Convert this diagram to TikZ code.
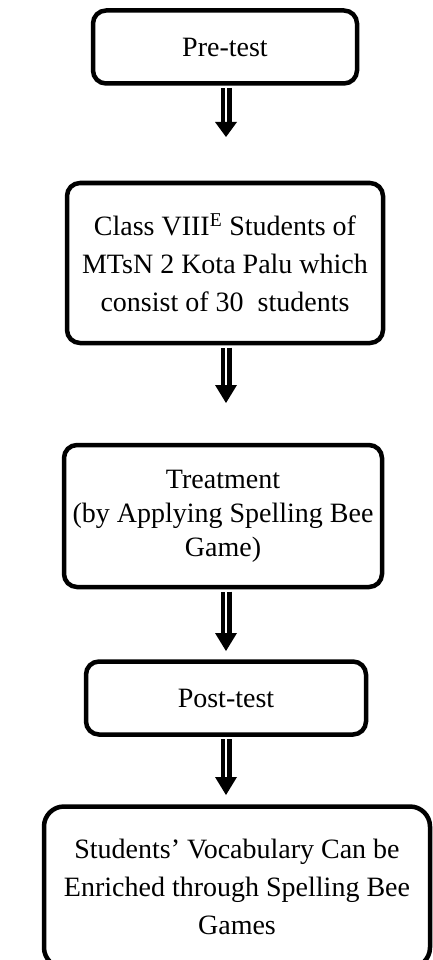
\documentclass[tikz,border=0pt]{standalone}
\usepackage{fontspec}
\setmainfont{Liberation Serif}
\usetikzlibrary{calc}
\begin{document}
\begin{tikzpicture}[x=1pt, y=-1pt]
\tikzset{every node/.style={font=\fontsize{28}{38}\selectfont}}
\tikzset{stage/.style={draw, line width=4.5pt, rounded corners=13pt, align=center, inner sep=0pt}}
\tikzset{shaft/.style={draw, line width=4.5pt, double=white, double distance=2pt}}
\useasboundingbox (0,0) rectangle (432,960);
\node[stage, minimum width=264pt, minimum height=73pt] (pre) at (225,47) {Pre-test};
\node[stage, minimum width=316pt, minimum height=160pt] (class) at (225,263)
  {Class VIII\textsuperscript{E} Students of\\MTsN 2 Kota Palu which\\consist of 30~ students};
\node[stage, minimum width=318pt, minimum height=142pt, font=\fontsize{28}{34}\selectfont] (treat) at (223,516)
  {Treatment\\(by Applying Spelling Bee\\Game)};
\node[stage, minimum width=280pt, minimum height=73pt] (post) at (226,698) {Post-test};
\node[stage, minimum width=386pt, minimum height=161pt, rounded corners=20pt] (result) at (237,887)
  {Students’ Vocabulary Can be\\Enriched through Spelling Bee\\Games};
\coordinate (b1) at (226,122); \coordinate (t1) at (226,137);
\coordinate (b2) at (226,385); \coordinate (t2) at (226,403);
\coordinate (b3) at (226,633); \coordinate (t3) at (226,651);
\coordinate (b4) at (226,777); \coordinate (t4) at (226,795);
\draw[shaft] ($(pre.south -| b1)+(0,2.25)$) -- (b1);
\fill (b1) ++(-11,0) -- ++(22,0) -- (t1) -- cycle;
\draw[shaft] ($(class.south -| b2)+(0,2.25)$) -- (b2);
\fill (b2) ++(-11,0) -- ++(22,0) -- (t2) -- cycle;
\draw[shaft] ($(treat.south -| b3)+(0,2.25)$) -- (b3);
\fill (b3) ++(-11,0) -- ++(22,0) -- (t3) -- cycle;
\draw[shaft] ($(post.south -| b4)+(0,2.25)$) -- (b4);
\fill (b4) ++(-11,0) -- ++(22,0) -- (t4) -- cycle;
\end{tikzpicture}
\end{document}
